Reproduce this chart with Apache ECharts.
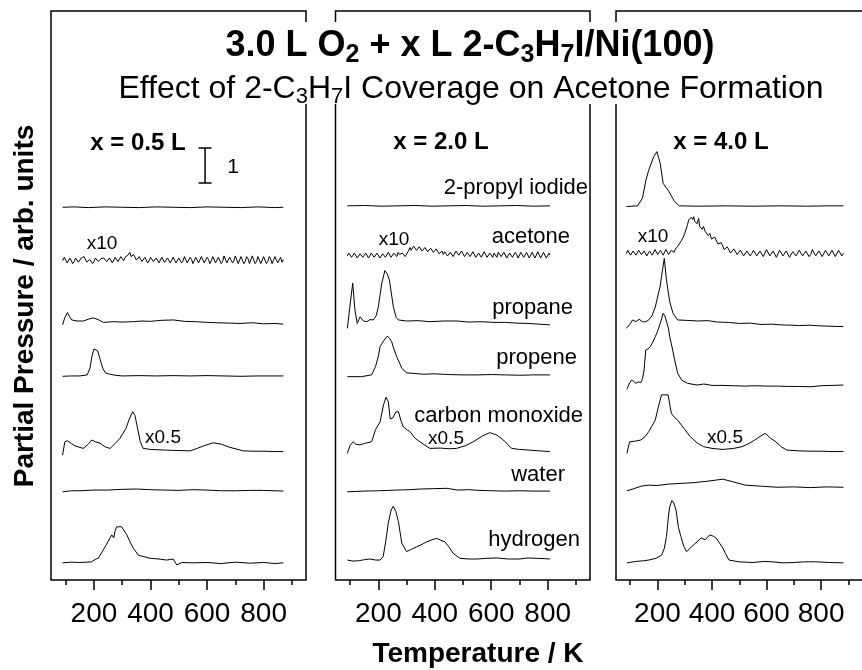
<!DOCTYPE html>
<html><head><meta charset="utf-8">
<script src="https://cdn.jsdelivr.net/npm/echarts@6/dist/echarts.min.js"></script>
<style>html,body{margin:0;padding:0;background:#fff}#c{width:862px;height:670px}</style>
</head><body><div id="c"></div>
<script>
// ---------- data (temperature K, partial pressure arb. units incl. stacking offset) ----------
const tickLabels = [200, 400, 600, 800];
const minorTicks = [100, 300, 500, 700, 900];
const panelLabels = ['x = 0.5 L', 'x = 2.0 L', 'x = 4.0 L'];
const traceNames = ['2-propyl iodide', 'acetone', 'propane', 'propene', 'carbon monoxide', 'water', 'hydrogen'];
const scaleBar = [[570,12.34],[616,12.34],[593,12.34],[593,11.34],[570,11.34],[616,11.34]];

// x = 0.5 L
const iodide05 = [[89,10.65],[130,10.66],[180,10.64],[240,10.66],[300,10.65],[360,10.64],[420,10.66],[480,10.65],[540,10.64],[600,10.66],[660,10.65],[720,10.64],[780,10.66],[840,10.64],[870,10.65]];
const acetone05 = [[89,9.12],[95,9.22],[100,9.2],[105,9.06],[110,9.08],[115,9.2],[120,9.18],[125,9.04],[130,9.1],[135,9.2],[140,9.22],[145,9.08],[150,9.06],[155,9.2],[160,9.15],[165,9.24],[170,9.2],[175,9.08],[180,9.05],[185,9.16],[190,9.17],[195,9.04],[200,9.1],[205,9.2],[210,9.22],[215,9.1],[220,9.08],[225,9.18],[230,9.14],[235,9.2],[240,9.24],[245,9.1],[250,9.07],[255,9.2],[260,9.16],[265,9.06],[270,9.1],[275,9.22],[280,9.2],[285,9.1],[290,9.12],[295,9.24],[300,9.18],[305,9.12],[310,9.22],[315,9.18],[320,9.28],[327,9.36],[331,9.24],[335,9.2],[340,9.3],[345,9.26],[350,9.14],[355,9.12],[360,9.24],[365,9.22],[370,9.1],[375,9.08],[380,9.22],[385,9.2],[390,9.06],[395,9.12],[400,9.22],[405,9.24],[410,9.1],[415,9.06],[420,9.2],[425,9.18],[430,9.06],[435,9.1],[440,9.22],[445,9.2],[450,9.08],[455,9.06],[460,9.2],[465,9.16],[470,9.06],[475,9.1],[480,9.22],[485,9.14],[490,9.06],[495,9.08],[500,9.2],[505,9.18],[510,9.06],[515,9.12],[520,9.24],[525,9.2],[530,9.06],[535,9.1],[540,9.22],[545,9.16],[550,9.04],[555,9.06],[560,9.22],[565,9.18],[570,9.06],[575,9.1],[580,9.24],[585,9.22],[590,9.06],[595,9.08],[600,9.22],[605,9.16],[610,9.04],[615,9.12],[620,9.24],[625,9.2],[630,9.06],[635,9.06],[640,9.22],[645,9.18],[650,9.04],[655,9.1],[660,9.26],[665,9.22],[670,9.06],[675,9.04],[680,9.22],[685,9.2],[690,9.06],[695,9.12],[700,9.26],[705,9.24],[710,9.04],[715,9.06],[720,9.24],[725,9.2],[730,9.04],[735,9.1],[740,9.24],[745,9.18],[750,9.04],[755,9.08],[760,9.26],[765,9.24],[770,9.04],[775,9.1],[780,9.24],[785,9.2],[790,9.04],[795,9.06],[800,9.24],[805,9.22],[810,9.04],[815,9.1],[820,9.24],[825,9.18],[830,9.04],[835,9.06],[840,9.24],[845,9.22],[850,9.06],[855,9.1],[860,9.22],[865,9.08],[870,9.16]];
const propane05 = [[89,7.29],[97,7.5],[106,7.64],[114,7.52],[121,7.43],[140,7.4],[162,7.4],[180,7.45],[196,7.49],[215,7.44],[233,7.36],[270,7.38],[300,7.37],[339,7.38],[370,7.4],[400,7.39],[440,7.42],[481,7.43],[520,7.39],[560,7.38],[600,7.36],[634,7.35],[680,7.34],[720,7.33],[760,7.35],[800,7.32],[840,7.33],[870,7.31]];
const propene05 = [[89,5.82],[120,5.83],[150,5.83],[176,5.86],[186,6.05],[193,6.4],[200,6.6],[207,6.63],[213,6.55],[222,6.3],[231,6.05],[240,5.92],[255,5.88],[275,5.85],[300,5.83],[360,5.84],[420,5.83],[480,5.84],[540,5.83],[600,5.84],[660,5.83],[720,5.82],[780,5.83],[840,5.83],[870,5.83]];
const co05 = [[89,3.57],[97,3.95],[106,3.98],[120,3.9],[133,3.83],[162,3.76],[180,3.88],[192,4.0],[205,3.95],[221,3.91],[240,3.8],[257,3.76],[275,3.9],[292,4.05],[313,4.33],[325,4.6],[337,4.81],[345,4.7],[353,4.38],[364,3.95],[374,3.76],[400,3.73],[430,3.72],[457,3.71],[500,3.7],[540,3.69],[565,3.76],[587,3.83],[622,3.92],[650,3.88],[681,3.79],[728,3.69],[760,3.68],[800,3.68],[840,3.67],[870,3.67]];
const water05 = [[89,2.52],[120,2.55],[150,2.55],[200,2.57],[250,2.57],[300,2.59],[350,2.6],[400,2.58],[450,2.57],[500,2.56],[550,2.58],[600,2.57],[650,2.55],[700,2.55],[750,2.56],[800,2.56],[840,2.55],[870,2.54]];
const hydrogen05 = [[89,0.49],[120,0.51],[150,0.5],[175,0.51],[192,0.52],[204,0.59],[215,0.62],[233,0.86],[250,1.1],[263,1.29],[270,1.2],[274,1.38],[280,1.52],[298,1.52],[316,1.29],[330,1.05],[339,0.91],[357,0.71],[380,0.66],[398,0.62],[430,0.6],[457,0.57],[480,0.6],[493,0.43],[510,0.5],[550,0.49],[600,0.5],[650,0.47],[700,0.51],[750,0.48],[800,0.5],[840,0.47],[870,0.49]];

// x = 2.0 L
const iodide20 = [[90,10.69],[150,10.7],[210,10.68],[270,10.69],[330,10.7],[390,10.68],[450,10.69],[510,10.7],[570,10.68],[630,10.69],[690,10.7],[750,10.68],[808,10.69]];
const acetone20 = [[90,9.26],[95,9.34],[100,9.36],[105,9.22],[110,9.22],[115,9.34],[120,9.32],[125,9.2],[130,9.2],[135,9.32],[140,9.34],[145,9.22],[150,9.24],[155,9.34],[160,9.3],[165,9.2],[170,9.22],[175,9.34],[180,9.36],[185,9.22],[190,9.26],[195,9.34],[200,9.3],[205,9.2],[210,9.2],[215,9.32],[220,9.32],[225,9.22],[230,9.24],[235,9.36],[240,9.34],[245,9.22],[250,9.22],[255,9.34],[260,9.3],[265,9.24],[270,9.36],[275,9.3],[280,9.26],[285,9.34],[290,9.3],[295,9.24],[300,9.28],[305,9.38],[312,9.5],[316,9.42],[320,9.44],[325,9.54],[330,9.52],[335,9.42],[340,9.42],[345,9.52],[350,9.5],[355,9.4],[360,9.4],[365,9.5],[370,9.48],[375,9.38],[380,9.38],[385,9.48],[390,9.46],[395,9.36],[400,9.36],[405,9.46],[410,9.44],[415,9.32],[420,9.32],[425,9.4],[430,9.3],[435,9.38],[440,9.38],[445,9.26],[450,9.26],[455,9.36],[460,9.34],[465,9.24],[470,9.28],[475,9.4],[480,9.4],[485,9.28],[490,9.3],[495,9.4],[500,9.38],[505,9.24],[510,9.24],[515,9.36],[520,9.34],[525,9.24],[530,9.28],[535,9.38],[540,9.36],[545,9.22],[550,9.22],[555,9.34],[560,9.32],[565,9.22],[570,9.26],[575,9.38],[580,9.36],[585,9.22],[590,9.24],[595,9.34],[600,9.3],[605,9.22],[610,9.34],[615,9.3],[620,9.22],[625,9.36],[630,9.36],[635,9.24],[640,9.26],[645,9.36],[650,9.32],[655,9.2],[660,9.2],[665,9.34],[670,9.34],[675,9.22],[680,9.26],[685,9.36],[690,9.3],[695,9.2],[700,9.22],[705,9.36],[710,9.36],[715,9.22],[720,9.24],[725,9.36],[730,9.32],[735,9.2],[740,9.2],[745,9.36],[750,9.34],[755,9.2],[760,9.24],[765,9.38],[770,9.36],[775,9.2],[780,9.22],[785,9.36],[790,9.32],[795,9.2],[800,9.2],[805,9.34],[808,9.28]];
const propane20 = [[90,7.19],[99,7.81],[109,8.48],[117,7.71],[125,7.33],[135,7.52],[147,7.4],[159,7.38],[170,7.44],[182,7.43],[192,7.55],[200,7.81],[212,8.48],[223,8.84],[231,8.75],[239,8.57],[253,7.81],[263,7.5],[271,7.43],[300,7.4],[340,7.41],[383,7.38],[430,7.4],[480,7.4],[520,7.37],[560,7.38],[610,7.36],[650,7.36],[690,7.34],[730,7.33],[770,7.31],[808,7.29]];
const propene20 = [[90,5.81],[140,5.81],[176,5.86],[182,5.91],[190,6.1],[200,6.4],[206,6.67],[220,6.85],[232,6.97],[240,6.9],[247,6.81],[255,6.6],[265,6.38],[275,6.2],[283,6.05],[300,5.92],[312,5.91],[360,5.88],[400,5.89],[450,5.87],[500,5.86],[550,5.86],[600,5.87],[650,5.86],[700,5.85],[750,5.86],[808,5.86]];
const co20 = [[90,3.62],[100,3.85],[111,3.95],[120,3.88],[135,3.86],[150,3.9],[176,3.95],[190,4.3],[206,4.52],[218,5.0],[227,5.22],[235,5.1],[242,4.6],[250,4.62],[262,4.8],[271,4.81],[280,4.55],[288,4.38],[300,4.3],[312,4.24],[330,4.05],[347,3.95],[365,3.85],[383,3.76],[420,3.77],[450,3.75],[477,3.76],[510,3.84],[536,3.95],[570,4.12],[595,4.21],[620,4.14],[643,4.0],[672,3.76],[700,3.73],[737,3.71],[770,3.69],[808,3.67]];
const water20 = [[90,2.52],[120,2.53],[150,2.54],[200,2.55],[265,2.57],[310,2.58],[350,2.6],[400,2.61],[442,2.62],[480,2.57],[520,2.58],[560,2.56],[600,2.55],[650,2.54],[700,2.55],[750,2.54],[808,2.54]];
const hydrogen20 = [[90,0.57],[110,0.54],[130,0.55],[150,0.58],[170,0.6],[190,0.57],[206,0.57],[217,0.67],[226,1.1],[235,1.62],[245,2.0],[253,2.11],[262,1.95],[271,1.67],[283,1.05],[300,0.81],[318,0.88],[336,0.95],[355,1.02],[371,1.09],[390,1.15],[407,1.19],[420,1.14],[436,1.09],[450,0.95],[465,0.76],[489,0.62],[520,0.6],[550,0.6],[585,0.62],[620,0.63],[660,0.6],[700,0.6],[730,0.63],[760,0.62],[790,0.61],[808,0.6]];

// x = 4.0 L
const iodide40 = [[86,10.67],[127,10.69],[145,10.91],[157,11.4],[168,11.71],[186,12.09],[198,12.24],[210,11.91],[221,11.33],[239,11.14],[263,10.81],[280,10.69],[350,10.68],[450,10.69],[550,10.68],[650,10.69],[750,10.68],[820,10.69],[882,10.69]];
const acetone40 = [[86,9.32],[91,9.42],[96,9.4],[101,9.28],[106,9.28],[111,9.4],[116,9.38],[121,9.28],[126,9.3],[131,9.42],[136,9.42],[141,9.3],[146,9.32],[151,9.4],[156,9.38],[161,9.26],[166,9.28],[171,9.4],[176,9.4],[181,9.28],[186,9.3],[191,9.44],[196,9.44],[201,9.3],[206,9.32],[211,9.42],[216,9.4],[221,9.28],[226,9.3],[231,9.44],[236,9.42],[241,9.3],[246,9.34],[251,9.42],[256,9.4],[261,9.36],[266,9.46],[273,9.52],[280,9.6],[288,9.7],[295,9.8],[300,9.9],[304,9.95],[310,10.15],[315,10.3],[320,10.26],[325,10.36],[329,10.3],[333,10.38],[337,10.24],[340,10.28],[345,10.18],[351,10.33],[355,10.1],[360,10.15],[364,10.02],[369,10.1],[375,9.96],[380,9.95],[386,9.84],[392,9.9],[398,9.74],[404,9.72],[410,9.8],[416,9.77],[422,9.6],[428,9.55],[434,9.64],[440,9.6],[445,9.44],[451,9.45],[456,9.52],[462,9.48],[468,9.34],[474,9.36],[480,9.46],[486,9.44],[492,9.3],[498,9.32],[504,9.42],[510,9.4],[516,9.26],[522,9.28],[528,9.4],[534,9.38],[540,9.26],[546,9.33],[552,9.42],[558,9.4],[564,9.26],[570,9.3],[576,9.4],[582,9.38],[588,9.24],[594,9.28],[600,9.44],[606,9.42],[612,9.26],[618,9.3],[624,9.4],[630,9.36],[636,9.22],[642,9.26],[648,9.42],[654,9.4],[660,9.26],[666,9.3],[672,9.4],[678,9.38],[684,9.22],[690,9.24],[696,9.38],[702,9.36],[708,9.26],[714,9.3],[720,9.42],[726,9.4],[732,9.26],[738,9.28],[744,9.4],[750,9.38],[756,9.24],[762,9.3],[768,9.44],[774,9.42],[780,9.26],[786,9.3],[792,9.4],[798,9.36],[804,9.24],[810,9.28],[816,9.42],[822,9.4],[828,9.26],[834,9.3],[840,9.42],[846,9.38],[852,9.24],[858,9.28],[864,9.42],[870,9.4],[876,9.26],[882,9.34]];
const propane40 = [[86,7.19],[98,7.3],[109,7.43],[121,7.38],[133,7.45],[145,7.38],[157,7.38],[168,7.43],[180,7.55],[192,7.8],[198,8.0],[210,8.4],[215,8.67],[225,9.19],[233,8.57],[245,7.95],[257,7.62],[274,7.43],[300,7.42],[350,7.4],[385,7.41],[420,7.37],[460,7.36],[500,7.33],[540,7.34],[580,7.3],[620,7.31],[650,7.29],[690,7.28],[720,7.27],[760,7.28],[800,7.26],[840,7.25],[882,7.24]];
const propene40 = [[88,5.45],[96,5.6],[104,5.71],[112,5.68],[121,5.62],[130,5.66],[139,5.64],[145,5.75],[151,6.0],[157,6.57],[165,6.6],[174,6.67],[183,6.8],[192,6.95],[200,7.1],[210,7.33],[221,7.62],[227,7.55],[233,7.52],[240,7.2],[245,6.95],[255,6.6],[263,6.29],[274,5.91],[290,5.7],[310,5.62],[345,5.57],[370,5.6],[400,5.56],[440,5.56],[480,5.55],[520,5.54],[560,5.55],[600,5.54],[640,5.54],[680,5.53],[720,5.53],[760,5.52],[800,5.55],[840,5.56],[882,5.57]];
const co40 = [[88,3.62],[98,3.95],[120,3.97],[139,4.0],[155,4.1],[168,4.24],[180,4.4],[192,4.57],[205,5.0],[215,5.29],[239,5.29],[251,4.76],[262,4.65],[274,4.57],[300,4.3],[321,4.09],[345,3.92],[369,3.81],[400,3.76],[440,3.73],[480,3.76],[510,3.81],[535,3.9],[557,4.0],[580,4.12],[595,4.19],[615,4.05],[634,3.95],[655,3.8],[675,3.71],[720,3.69],[760,3.68],[800,3.68],[840,3.67],[882,3.67]];
const water40 = [[88,2.55],[110,2.6],[140,2.68],[168,2.71],[200,2.7],[240,2.74],[286,2.76],[330,2.78],[380,2.82],[440,2.88],[480,2.8],[522,2.71],[580,2.68],[639,2.65],[700,2.66],[760,2.64],[820,2.66],[882,2.65]];
const hydrogen40 = [[88,0.49],[120,0.53],[150,0.55],[168,0.57],[195,0.62],[215,0.71],[225,0.9],[233,1.24],[240,1.8],[245,2.09],[253,2.27],[260,2.2],[268,2.0],[277,1.5],[286,1.24],[297,0.95],[307,0.81],[325,0.95],[345,1.09],[360,1.2],[375,1.15],[392,1.29],[405,1.25],[416,1.19],[428,1.05],[440,0.91],[450,0.75],[462,0.57],[498,0.52],[550,0.5],[590,0.53],[620,0.52],[660,0.49],[700,0.5],[740,0.52],[780,0.52],[830,0.5],[882,0.49]];

const panels = [
  [iodide05, acetone05, propane05, propene05, co05, water05, hydrogen05],
  [iodide20, acetone20, propane20, propene20, co20, water20, hydrogen20],
  [iodide40, acetone40, propane40, propene40, co40, water40, hydrogen40]
];

// ---------- layout ----------
const FONT = "'Liberation Sans', Arial, Helvetica, sans-serif";
const gridBoxes = [
  {left: 51, top: 11, width: 255, height: 569},
  {left: 335.5, top: 11, width: 254.5, height: 569},
  {left: 616, top: 11, width: 255, height: 569}
];
const X_MIN = 48, X_MAX = 950, Y_MAX = 569 / 35;

const grid = [], xAxis = [], yAxis = [], series = [];
gridBoxes.forEach((g, i) => {
  grid.push(Object.assign({show: false}, g));
  xAxis.push({
    gridIndex: i, type: 'value', min: X_MIN, max: X_MAX, position: 'bottom',
    axisLine: {show: true, lineStyle: {color: '#000', width: 1.5}},
    axisTick: {show: true, customValues: tickLabels, length: 10, lineStyle: {color: '#000', width: 1.5}},
    axisLabel: {customValues: tickLabels, fontSize: 28, color: '#000', fontFamily: FONT, margin: 20},
    splitLine: {show: false}
  });
  xAxis.push({
    gridIndex: i, type: 'value', min: X_MIN, max: X_MAX, position: 'bottom',
    axisLine: {show: false},
    axisTick: {show: true, customValues: minorTicks, length: 5, lineStyle: {color: '#000', width: 1.5}},
    axisLabel: {show: false},
    splitLine: {show: false}
  });
  yAxis.push({gridIndex: i, type: 'value', min: 0, max: Y_MAX, show: false});
  panels[i].forEach((d, k) => {
    series.push({
      type: 'line', name: traceNames[k] + ' ' + panelLabels[i], xAxisIndex: 2 * i, yAxisIndex: i,
      data: d, showSymbol: false, symbol: 'none', lineStyle: {color: '#000', width: 1}, silent: true
    });
  });
});
series.push({type: 'line', xAxisIndex: 0, yAxisIndex: 0, data: scaleBar, showSymbol: false, symbol: 'none',
  lineStyle: {color: '#000', width: 1.5}, silent: true});

function txt(x, y, text, size, opt) {
  opt = opt || {};
  return {type: 'text', x: x, y: y, rotation: opt.rotation || 0,
    style: {text: text, font: (opt.bold ? 'bold ' : '') + size + 'px ' + FONT, fill: '#000',
      textAlign: opt.align || 'center', textVerticalAlign: 'middle'}};
}
function frame(points) {
  return {type: 'polyline', shape: {points: points}, style: {stroke: '#000', lineWidth: 1.5, fill: null}};
}
// panel frames, interrupted where the title sits
const GAP_TOP = 22, GAP_BOTTOM = 104, BOTTOM = 580, TOP = 11;
const frames = [
  frame([[51, BOTTOM], [51, TOP], [306, TOP], [306, GAP_TOP]]),
  frame([[306, GAP_BOTTOM], [306, BOTTOM]]),
  frame([[335.5, GAP_TOP], [335.5, TOP], [590, TOP], [590, GAP_TOP]]),
  frame([[335.5, GAP_BOTTOM], [335.5, BOTTOM]]),
  frame([[590, GAP_BOTTOM], [590, BOTTOM]]),
  frame([[616, GAP_TOP], [616, TOP], [871, TOP], [871, BOTTOM]]),
  frame([[616, GAP_BOTTOM], [616, BOTTOM]])
];

const graphic = frames.concat([
  {type: 'text', x: 470, y: 46, style: {
    text: '{b|3.0 L O}{s|2}{b| + x L 2-C}{s|3}{b|H}{s|7}{b|I/Ni(100)}',
    textAlign: 'center', textVerticalAlign: 'middle', fill: '#000',
    rich: {
      b: {fontSize: 36, fontWeight: 'bold', fontFamily: FONT, fill: '#000', lineHeight: 44},
      s: {fontSize: 25, fontWeight: 'bold', fontFamily: FONT, fill: '#000', lineHeight: 44, padding: [18, 0, 0, 0]}
    }}},
  {type: 'text', x: 471, y: 89, style: {
    text: '{n|Effect of 2-C}{s|3}{n|H}{s|7}{n|I Coverage on Acetone Formation}',
    textAlign: 'center', textVerticalAlign: 'middle', fill: '#000',
    rich: {
      n: {fontSize: 32, fontFamily: FONT, fill: '#000', lineHeight: 38},
      s: {fontSize: 22, fontFamily: FONT, fill: '#000', lineHeight: 38, padding: [16, 0, 0, 0]}
    }}},
  txt(25, 306, 'Partial Pressure / arb. units', 28, {bold: true, rotation: Math.PI / 2}),
  txt(478, 654, 'Temperature / K', 28, {bold: true}),
  txt(138, 143, panelLabels[0], 24, {bold: true}),
  txt(441, 142, panelLabels[1], 24, {bold: true}),
  txt(721, 142, panelLabels[2], 24, {bold: true}),
  txt(233, 167, '1', 21),
  txt(102, 244, 'x10', 19),
  txt(163, 438, 'x0.5', 19),
  txt(394, 240, 'x10', 19),
  txt(446, 439, 'x0.5', 19),
  txt(653, 237, 'x10', 19),
  txt(725, 438, 'x0.5', 19),
  txt(588, 188, traceNames[0], 22, {align: 'right'}),
  txt(570, 237, traceNames[1], 22, {align: 'right'}),
  txt(573, 308, traceNames[2], 22, {align: 'right'}),
  txt(577, 358, traceNames[3], 22, {align: 'right'}),
  txt(583, 416, traceNames[4], 22, {align: 'right'}),
  txt(565, 475, traceNames[5], 22, {align: 'right'}),
  txt(580, 540, traceNames[6], 22, {align: 'right'})
]);

const chart = echarts.init(document.getElementById('c'), null, {renderer: 'canvas'});
chart.setOption({animation: false, backgroundColor: '#fff', grid, xAxis, yAxis, series, graphic});
</script></body></html>
